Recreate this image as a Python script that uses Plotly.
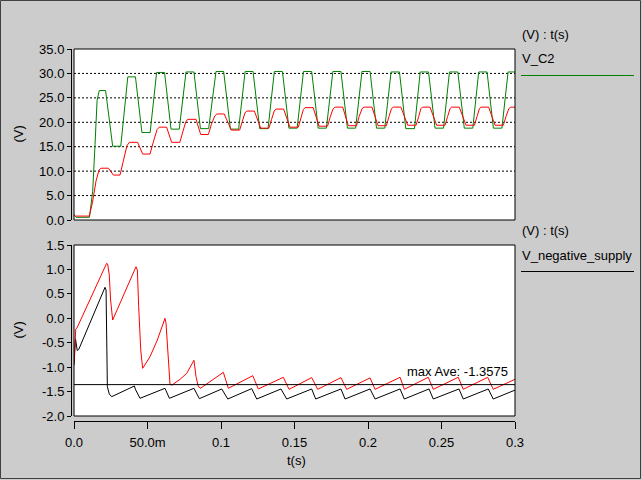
import plotly.graph_objects as go

# ---------------- data ----------------
# top panel, V_C2 (green) : vertices of the waveform
t_g = [0.0000, 0.0014, 0.0105, 0.0127, 0.0143, 0.0157,
       0.0172, 0.0215, 0.0263, 0.0318,
       0.0366, 0.0418, 0.0462, 0.0518,
       0.0562, 0.0616, 0.0660, 0.0716,
       0.0762, 0.0816, 0.0860, 0.0916,
       0.0966, 0.1018, 0.1064, 0.1120,
       0.1164, 0.1218, 0.1263, 0.1320,
       0.1363, 0.1418, 0.1462, 0.1518,
       0.1561, 0.1617, 0.1661, 0.1717,
       0.1761, 0.1816, 0.1860, 0.1916,
       0.1959, 0.2014, 0.2058, 0.2114,
       0.2157, 0.2214, 0.2257, 0.2316,
       0.2355, 0.2412, 0.2456, 0.2514,
       0.2554, 0.2611, 0.2655, 0.2713,
       0.2753, 0.2810, 0.2853, 0.2911,
       0.2953, 0.3000]
v_g = [1.0, 0.55, 0.55, 5.8, 15.4, 24.5,
       26.5, 26.5, 15.1, 15.1,
       29.3, 29.3, 17.9, 17.9,
       30.2, 30.2, 18.6, 18.6,
       30.3, 30.3, 18.7, 18.7,
       30.4, 30.4, 18.6, 18.6,
       30.4, 30.4, 18.7, 18.7,
       30.4, 30.4, 18.8, 18.8,
       30.4, 30.4, 18.8, 18.8,
       30.4, 30.4, 18.8, 18.8,
       30.4, 30.4, 18.8, 18.8,
       30.3, 30.3, 18.7, 18.7,
       30.3, 30.3, 18.8, 18.8,
       30.3, 30.3, 18.8, 18.8,
       30.3, 30.3, 18.8, 18.8,
       30.3, 30.3]

# top panel, red trace
t_r = [0.0000, 0.0010, 0.0104, 0.0125, 0.0150, 0.0170,
       0.0184, 0.0234, 0.0268, 0.0313, 0.0335, 0.0360,
       0.0376, 0.0433, 0.0467, 0.0517, 0.0540, 0.0565,
       0.0580, 0.0630, 0.0664, 0.0720, 0.0740, 0.0760,
       0.0773, 0.0830, 0.0862, 0.0914, 0.0935, 0.0958,
       0.0972, 0.1022, 0.1070, 0.1127, 0.1145, 0.1163,
       0.1175, 0.1227, 0.1270, 0.1326, 0.1344, 0.1362,
       0.1374, 0.1426, 0.1469, 0.1526, 0.1544, 0.1560,
       0.1572, 0.1627, 0.1667, 0.1725, 0.1743, 0.1762,
       0.1776, 0.1828, 0.1866, 0.1922, 0.1940, 0.1960,
       0.1974, 0.2027, 0.2068, 0.2125, 0.2143, 0.2160,
       0.2172, 0.2224, 0.2270, 0.2327, 0.2345, 0.2360,
       0.2370, 0.2422, 0.2467, 0.2524, 0.2542, 0.2558,
       0.2569, 0.2621, 0.2667, 0.2724, 0.2742, 0.2758,
       0.2769, 0.2821, 0.2864, 0.2921, 0.2939, 0.2958,
       0.2971, 0.3000]
v_r = [1.1, 0.8, 0.8, 3.5, 8.0, 10.2,
       10.6, 10.6, 9.2, 9.2, 12.0, 15.2,
       15.9, 15.9, 13.5, 13.5, 16.0, 18.5,
       19.0, 19.0, 15.9, 15.9, 18.0, 20.1,
       20.6, 20.6, 17.5, 17.5, 19.6, 21.3,
       21.7, 21.7, 18.4, 18.4, 20.2, 21.9,
       22.3, 22.3, 18.8, 18.8, 20.6, 22.3,
       22.7, 22.7, 19.0, 19.0, 20.9, 22.6,
       23.0, 23.0, 19.2, 19.2, 21.1, 22.7,
       23.1, 23.1, 19.3, 19.3, 21.2, 22.8,
       23.1, 23.1, 19.3, 19.3, 21.2, 22.8,
       23.1, 23.1, 19.4, 19.4, 21.2, 22.8,
       23.1, 23.1, 19.4, 19.4, 21.2, 22.8,
       23.1, 23.1, 19.4, 19.4, 21.2, 22.8,
       23.1, 23.1, 19.4, 19.4, 21.2, 22.8,
       23.1, 23.1]

# bottom panel, red trace
t_rb = [0.0000, 0.0005, 0.0012, 0.0020,
        0.0222, 0.0229, 0.0240, 0.0249, 0.0263,
        0.0422, 0.0431, 0.0440, 0.0454, 0.0467,
        0.0517, 0.0567, 0.0619, 0.0626, 0.0637, 0.0653, 0.0665,
        0.0721, 0.0767, 0.0816, 0.0830, 0.0846, 0.0862,
        0.1016, 0.1050,
        0.1216, 0.1254,
        0.1424, 0.1463,
        0.1617, 0.1658,
        0.1816, 0.1855,
        0.2014, 0.2048,
        0.2218, 0.2247,
        0.2410, 0.2444,
        0.2614, 0.2648,
        0.2814, 0.2852,
        0.3000]
v_rb = [-0.90, -0.55, -0.22, -0.20,
        1.125, 1.111, 0.886, 0.374, -0.035,
        1.056, 0.988, 0.237, -0.65, -1.024,
        -0.786, -0.444, 0.0, -0.103, -0.717, -1.345, -1.37,
        -1.25, -1.126, -0.86, -1.195, -1.40, -1.43,
        -1.106, -1.433,
        -1.175, -1.447,
        -1.208, -1.454,
        -1.215, -1.454,
        -1.215, -1.454,
        -1.22, -1.454,
        -1.208, -1.454,
        -1.208, -1.454,
        -1.208, -1.454,
        -1.208, -1.454,
        -1.249]

# bottom panel, V_negative_supply (black)
t_kb = [0.0000, 0.0010, 0.0022, 0.0032,
        0.0211, 0.0218, 0.0227, 0.0240, 0.0256,
        0.0411, 0.0417, 0.0449,
        0.0619, 0.0649,
        0.0816, 0.0853,
        0.1005, 0.1046,
        0.1209, 0.1243,
        0.1408, 0.1447,
        0.1617, 0.1644,
        0.1816, 0.1844,
        0.2014, 0.2048,
        0.2218, 0.2247,
        0.2415, 0.2444,
        0.2619, 0.2648,
        0.2818, 0.2852,
        0.3000]
v_kb = [-0.96, -0.42, -0.66, -0.64,
        0.634, 0.58, -1.40, -1.55, -1.605,
        -1.386, -1.45, -1.638,
        -1.433, -1.638,
        -1.433, -1.645,
        -1.447, -1.652,
        -1.440, -1.652,
        -1.447, -1.652,
        -1.447, -1.652,
        -1.447, -1.652,
        -1.447, -1.652,
        -1.447, -1.652,
        -1.447, -1.652,
        -1.447, -1.652,
        -1.447, -1.652,
        -1.47]

max_ave = -1.3575
max_ave_label = "max Ave: -1.3575"

top_ticks = [0, 5, 10, 15, 20, 25, 30, 35]
top_ticktext = ["0.0", "5.0", "10.0", "15.0", "20.0", "25.0", "30.0", "35.0"]
top_grid = [5, 10, 15, 20, 25, 30]
bot_ticks = [-2.0, -1.5, -1.0, -0.5, 0.0, 0.5, 1.0, 1.5]
bot_ticktext = ["-2.0", "-1.5", "-1.0", "-0.5", "0.0", "0.5", "1.0", "1.5"]
x_ticks = [0.0, 0.05, 0.1, 0.15, 0.2, 0.25, 0.3]
x_ticktext = ["0.0", "50.0m", "0.1", "0.15", "0.2", "0.25", "0.3"]

# ---------------- layout helpers ----------------
W, H = 642, 480
def fx(p):
    return p / W
def fy(p):
    return 1 - p / H

FONT = "Liberation Sans, Arial, sans-serif"
FS = 13
BG = "#cccccc"
XDOM = [fx(74), fx(515)]

fig = go.Figure()
fig.add_trace(go.Scatter(x=t_g, y=v_g, mode="lines", line=dict(color="#008000", width=1),
                         xaxis="x", yaxis="y", hoverinfo="skip"))
fig.add_trace(go.Scatter(x=t_r, y=v_r, mode="lines", line=dict(color="#ff0000", width=1),
                         xaxis="x", yaxis="y", hoverinfo="skip"))
fig.add_trace(go.Scatter(x=t_kb, y=v_kb, mode="lines", line=dict(color="#000000", width=1),
                         xaxis="x2", yaxis="y2", hoverinfo="skip"))
fig.add_trace(go.Scatter(x=t_rb, y=v_rb, mode="lines", line=dict(color="#ff0000", width=1),
                         xaxis="x2", yaxis="y2", hoverinfo="skip"))
fig.add_trace(go.Scatter(x=[0.0, 0.3], y=[max_ave, max_ave], mode="lines",
                         line=dict(color="#000000", width=1),
                         xaxis="x2", yaxis="y2", hoverinfo="skip"))

tickfont = dict(family=FONT, size=FS, color="black")

shapes = []
# dotted grid on top panel
for g in top_grid:
    shapes.append(dict(type="line", xref="x domain", yref="y", x0=0, x1=1, y0=g, y1=g,
                       line=dict(color="black", width=1, dash="2px,2px"), layer="below"))
# plot frames
for xr, yr in (("x domain", "y domain"), ("x2 domain", "y2 domain")):
    shapes.append(dict(type="rect", xref=xr, yref=yr, x0=0, x1=1, y0=0, y1=1,
                       line=dict(color="black", width=1), layer="above"))
# legend lines
shapes.append(dict(type="line", xref="paper", yref="paper", x0=fx(521), x1=fx(634),
                   y0=fy(75.5), y1=fy(75.5), line=dict(color="#008000", width=1)))
shapes.append(dict(type="line", xref="paper", yref="paper", x0=fx(521), x1=fx(634),
                   y0=fy(271.5), y1=fy(271.5), line=dict(color="black", width=1)))
# outer window border
shapes.append(dict(type="rect", xref="paper", yref="paper", x0=fx(0.5), x1=fx(640.5),
                   y0=fy(478.5), y1=fy(0.5), line=dict(color="#404040", width=1)))

def ann(text, x, y, xanchor="left", yanchor="middle", angle=0, **kw):
    d = dict(text=text, x=x, y=y, xref="paper", yref="paper", xanchor=xanchor,
             yanchor=yanchor, showarrow=False, textangle=angle,
             font=dict(family=FONT, size=FS, color="black"))
    d.update(kw)
    return d

annotations = [
    ann("(V)", fx(18), fy(134.5), xanchor="center", angle=-90),
    ann("(V)", fx(18), fy(330.5), xanchor="center", angle=-90),
    ann("t(s)", fx(296), fy(460), xanchor="center"),
    ann("(V) : t(s)", fx(520), fy(34.5)),
    ann("V_C2", fx(520), fy(58)),
    ann("(V) : t(s)", fx(520), fy(231)),
    ann("V_negative_supply", fx(520), fy(255)),
    dict(text=max_ave_label, x=0.2966, y=max_ave, xref="x2", yref="y2", xanchor="right",
         yanchor="bottom", yshift=4, showarrow=False,
         font=dict(family=FONT, size=FS, color="black")),
]

fig.update_layout(
    width=W, height=H, margin=dict(l=0, r=0, t=0, b=0, pad=0, autoexpand=False),
    paper_bgcolor=BG, plot_bgcolor="white", showlegend=False,
    xaxis=dict(domain=XDOM, range=[0, 0.3], anchor="y", showticklabels=False, ticks="",
               showline=False, showgrid=False, zeroline=False, automargin=False),
    yaxis=dict(domain=[fy(220), fy(49)], range=[0, 35], anchor="free", position=fx(71),
               showline=True, linecolor="black", linewidth=1, ticks="outside", ticklen=4,
               tickcolor="black", tickvals=top_ticks, ticktext=top_ticktext,
               showgrid=False, zeroline=False, tickfont=tickfont, automargin=False),
    xaxis2=dict(domain=XDOM, range=[0, 0.3], anchor="free", position=fy(421),
                showline=True, linecolor="black", linewidth=1, ticks="outside", ticklen=7,
                tickcolor="black", tickvals=x_ticks, ticktext=x_ticktext,
                showgrid=False, zeroline=False, tickfont=tickfont, automargin=False,
                ticklabelstandoff=2),
    yaxis2=dict(domain=[fy(416), fy(245)], range=[-2, 1.5], anchor="free", position=fx(71),
                showline=True, linecolor="black", linewidth=1, ticks="outside", ticklen=4,
                tickcolor="black", tickvals=bot_ticks, ticktext=bot_ticktext,
                showgrid=False, zeroline=False, tickfont=tickfont, automargin=False),
    shapes=shapes,
    annotations=annotations,
)

fig.write_html("out.html")
